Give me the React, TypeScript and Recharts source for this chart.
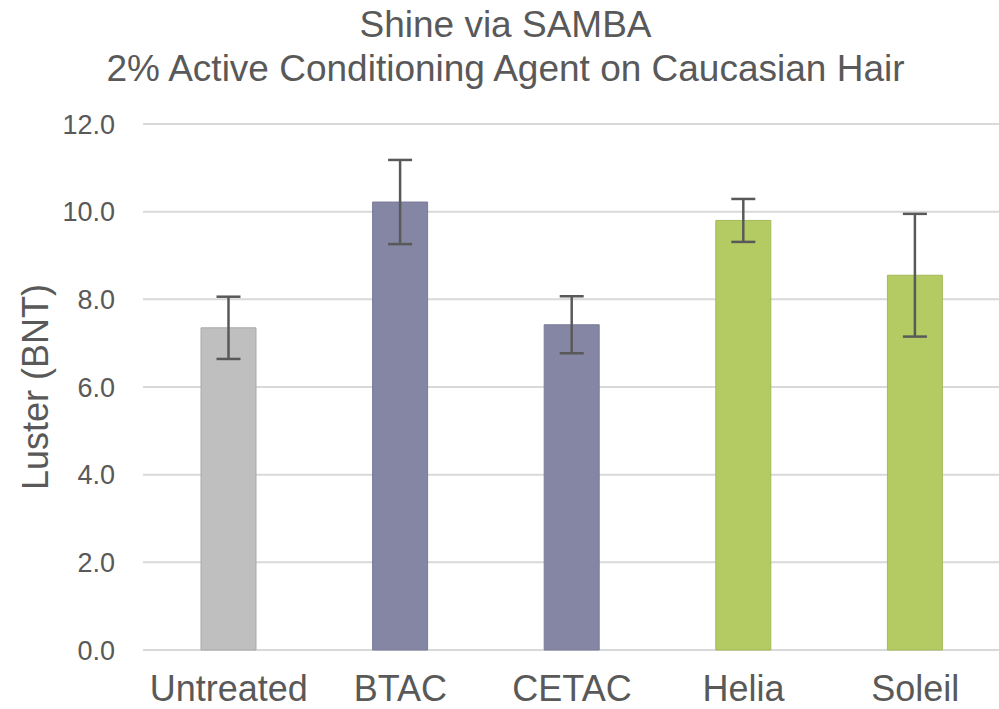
import { BarChart, Bar, XAxis, YAxis, CartesianGrid, ErrorBar, Cell } from "recharts";

const categories = ["Untreated", "BTAC", "CETAC", "Helia", "Soleil"];
const luster = [7.35, 10.22, 7.42, 9.8, 8.55];
const lusterError = [0.71, 0.96, 0.65, 0.49, 1.4];
const yTicks = [0, 2, 4, 6, 8, 10, 12];

const barColors = ["#bfbfbf", "#8486a4", "#8486a4", "#b3cb62", "#b3cb62"];
const barStrokes = ["#a9a9a9", "#7a7c98", "#7a7c98", "#a3ba57", "#a3ba57"];

const chartData = categories.map((name, i) => ({
  name,
  value: luster[i],
  err: lusterError[i],
}));

const FONT = "'Liberation Sans', Arial, sans-serif";
const TEXT = "#595959";

export default function App() {
  return (
    <div style={{ position: "relative", width: 999, height: 709, background: "#fff", overflow: "hidden", fontFamily: FONT }}>
      <style>{`body{margin:0}`}</style>
      <div
        style={{
          position: "absolute",
          top: 3,
          left: 6,
          width: 999,
          textAlign: "center",
          color: TEXT,
          fontSize: 37,
          lineHeight: "44px",
        }}
      >
        <div>Shine via SAMBA</div>
        <div>2% Active Conditioning Agent on Caucasian Hair</div>
      </div>
      <BarChart
        width={1001}
        height={709}
        data={chartData}
        margin={{ top: 124, right: 0, bottom: 0, left: 0 }}
        barCategoryGap={0}
      >
        <CartesianGrid vertical={false} stroke="#d9d9d9" strokeWidth={2} />
        <XAxis
          dataKey="name"
          height={59}
          axisLine={false}
          tickLine={false}
          tickSize={0}
          tickMargin={25}
          tick={{ fill: TEXT, fontSize: 36, fontFamily: FONT }}
          interval={0}
        />
        <YAxis
          width={143}
          domain={[0, 12]}
          ticks={yTicks}
          tickFormatter={(v: number) => v.toFixed(1)}
          axisLine={false}
          tickLine={false}
          tickSize={0}
          tickMargin={28}
          tick={{ fill: TEXT, fontSize: 27, fontFamily: FONT }}
          label={({ viewBox }: any) => {
            const cy = viewBox.y + viewBox.height / 2;
            return (
              <text
                x={35}
                y={cy}
                transform={`rotate(-90, 35, ${cy})`}
                textAnchor="middle"
                dominantBaseline="central"
                fill={TEXT}
                fontSize={36}
                fontFamily={FONT}
              >
                Luster (BNT)
              </text>
            );
          }}
        />
        <Bar dataKey="value" barSize={55} isAnimationActive={false}>
          {chartData.map((_, i) => (
            <Cell key={i} fill={barColors[i]} stroke={barStrokes[i]} strokeWidth={1} />
          ))}
          <ErrorBar dataKey="err" width={12} stroke="#595959" strokeWidth={2.5} isAnimationActive={false} />
        </Bar>
      </BarChart>
    </div>
  );
}
